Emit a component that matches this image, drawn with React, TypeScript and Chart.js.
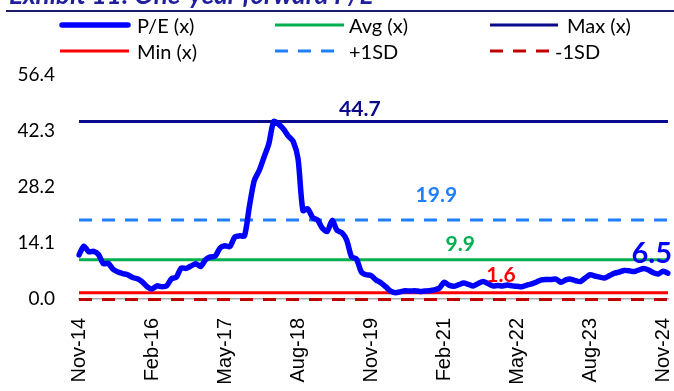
import React, { useEffect, useRef } from 'react';
import { Chart, registerables } from 'chart.js';

Chart.register(...registerables);

// ---------- data ----------
const MONTHS = ['Jan', 'Feb', 'Mar', 'Apr', 'May', 'Jun', 'Jul', 'Aug', 'Sep', 'Oct', 'Nov', 'Dec'];
const categories: string[] = [];
for (let k = 0; k < 122; k++) {
  const m = (10 + k) % 12;
  const yr = 14 + Math.floor((10 + k) / 12);
  categories.push(`${MONTHS[m]}-${String(yr).padStart(2, '0')}`);
}

const xTickLabels = ['Nov-14', 'Feb-16', 'May-17', 'Aug-18', 'Nov-19', 'Feb-21', 'May-22', 'Aug-23', 'Nov-24'];
const yTickValues = [0, 14.1, 28.2, 42.3, 56.4];

const peValues = [
  11.1, 13.3, 11.9, 12.0, 11.2, 8.9, 9.0, 7.5, 6.8, 6.4,
  6.1, 5.4, 5.1, 4.3, 3.1, 2.5, 3.3, 3.1, 3.3, 5.1,
  5.5, 7.8, 7.7, 8.3, 8.9, 8.2, 9.9, 10.6, 10.8, 12.9,
  13.4, 13.2, 15.6, 15.9, 15.9, 23.3, 29.8, 32.3, 35.7, 39.1,
  44.7, 44.0, 42.8, 41.0, 39.7, 35.3, 22.3, 22.7, 20.5, 19.9,
  17.8, 17.0, 19.8, 17.3, 16.7, 14.8, 10.6, 10.1, 6.8, 6.1,
  5.9, 4.8, 4.1, 3.1, 2.0, 1.6, 1.8, 2.1, 2.0, 2.1,
  1.9, 2.0, 2.1, 2.3, 2.7, 4.2, 3.5, 3.2, 3.6, 4.0,
  3.7, 3.3, 3.9, 4.4, 3.9, 3.3, 3.4, 3.3, 3.5, 3.3,
  3.2, 3.1, 3.5, 3.8, 4.3, 4.8, 4.9, 4.9, 5.0, 4.2,
  4.8, 5.0, 4.6, 4.4, 5.3, 6.1, 5.8, 5.5, 5.3, 5.9,
  6.5, 6.8, 7.2, 7.1, 6.9, 7.3, 7.7, 7.3, 6.6, 6.3,
  7.0, 6.5,
];

const avgValue = 9.9;
const maxValue = 44.7;
const minValue = 1.6;
const plusSdValue = 19.9;
const minusSdValue = -0.1;
const lastValue = 6.5;

const seriesNames = ['P/E (x)', 'Avg (x)', 'Max (x)', 'Min (x)', '+1SD', '-1SD'];
const titleText = 'Exhibit 11: One-year forward P/E';

// ---------- styles ----------
const C_PE = '#0000FF';
const C_AVG = '#00B050';
const C_MAX = '#0A0A8C';
const C_MIN = '#FF0000';
const C_PSD = '#1E7FFF';
const C_MSD = '#C00000';

const refLine = (label: string, v: number, color: string, dash: number[] = [], extra: any = {}) => ({
  label,
  data: [
    { x: categories[0], y: v },
    { x: categories[categories.length - 1], y: v },
  ],
  borderColor: color,
  backgroundColor: color,
  borderWidth: 3,
  borderDash: dash,
  borderCapStyle: 'butt',
  pointRadius: 0,
  tension: 0,
  ...extra,
});

const annotationPlugin = {
  id: 'valueLabels',
  afterDatasetsDraw(chart: any) {
    const { ctx, scales } = chart;
    const xs = scales.x;
    const ys = scales.y;
    const draw = (text: string, xi: number, val: number, dy: number, color: string, size: number, align: CanvasTextAlign = 'center', dx = 0) => {
      ctx.save();
      ctx.font = `bold ${size}px Lato, "Open Sans", sans-serif`;
      ctx.fillStyle = color;
      ctx.textAlign = align;
      ctx.textBaseline = 'alphabetic';
      ctx.fillText(text, xs.getPixelForValue(xi) + dx, ys.getPixelForValue(val) - dy);
      ctx.restore();
    };
    draw(maxValue.toFixed(1), 57.7, maxValue, 5, C_MAX, 21);
    draw(plusSdValue.toFixed(1), 73.4, plusSdValue, 18, C_PSD, 21);
    draw(avgValue.toFixed(1), 78.3, avgValue, 9, C_AVG, 21);
    draw(minValue.toFixed(1), 86.7, minValue, 11, C_MIN, 21);
    draw(lastValue.toFixed(1), categories.length - 1, lastValue, 10, C_PE, 29, 'right', 4);
  },
};

function ChartCanvas() {
  const ref = useRef<HTMLCanvasElement>(null);
  useEffect(() => {
    if (!ref.current) return;
    const chart = new Chart(ref.current, {
      type: 'line',
      data: {
        labels: categories,
        datasets: [
          {
            label: seriesNames[0],
            data: peValues,
            borderColor: C_PE,
            backgroundColor: C_PE,
            borderWidth: 5.5,
            pointRadius: 0,
            tension: 0.25,
            borderCapStyle: 'round',
            borderJoinStyle: 'round',
          } as any,
          refLine(seriesNames[1], avgValue, C_AVG),
          refLine(seriesNames[2], maxValue, C_MAX),
          refLine(seriesNames[3], minValue, C_MIN),
          refLine(seriesNames[4], plusSdValue, C_PSD, [13, 10]),
          refLine(seriesNames[5], minusSdValue, C_MSD, [13, 10], { clip: false }),
        ],
      },
      options: {
        responsive: false,
        animation: false,
        devicePixelRatio: 1,
        layout: { padding: { top: 75, right: 6, left: 0, bottom: 0 } },
        plugins: {
          legend: { display: false },
          tooltip: { enabled: false },
          title: { display: false },
        },
        scales: {
          x: {
            type: 'category',
            offset: false,
            grid: { display: false, drawTicks: true, tickLength: 19 },
            border: { display: true, color: '#A6A6A6', width: 1.5 },
            ticks: {
              autoSkip: false,
              maxRotation: 90,
              minRotation: 90,
              padding: 0,
              color: '#000000',
              font: { family: '"Liberation Sans", Arial, sans-serif', size: 20 },
              callback: (_v: any, idx: number) => {
                const l = categories[idx];
                return xTickLabels.includes(l) ? l : null;
              },
            },
            afterFit: (s: any) => {
              s.height = 92;
              s.paddingRight = 0;
              s.paddingLeft = 0;
            },
          },
          y: {
            min: 0,
            max: 56.4,
            grid: { display: false, drawTicks: false },
            border: { display: false },
            afterBuildTicks: (s: any) => {
              s.ticks = yTickValues.map((v) => ({ value: v }));
            },
            ticks: {
              padding: 24,
              color: '#000000',
              font: { family: 'Lato, "Open Sans", sans-serif', size: 19 },
              callback: (v: any) => Number(v).toFixed(1),
            },
            afterFit: (s: any) => {
              s.width = 79;
            },
          },
        },
      } as any,
      plugins: [annotationPlugin],
    });
    return () => chart.destroy();
  }, []);
  return <canvas ref={ref} width={674} height={391} style={{ position: 'absolute', left: 0, top: 0 }} />;
}

function Legend() {
  const font: React.CSSProperties = {
    position: 'absolute',
    fontFamily: 'Lato, "Open Sans", sans-serif',
    fontSize: 20,
    lineHeight: '24px',
    color: '#000',
    whiteSpace: 'nowrap',
  };
  const r1 = 25;
  const r2 = 51;
  return (
    <>
      <svg width={674} height={70} style={{ position: 'absolute', left: 0, top: 0 }}>
        <line x1={62} y1={r1} x2={128} y2={r1} stroke={C_PE} strokeWidth={5.5} strokeLinecap="round" />
        <line x1={275} y1={r1} x2={344} y2={r1} stroke={C_AVG} strokeWidth={3} />
        <line x1={490} y1={r1} x2={558} y2={r1} stroke={C_MAX} strokeWidth={3} />
        <line x1={60} y1={r2} x2={129} y2={r2} stroke={C_MIN} strokeWidth={3} />
        <line x1={275} y1={r2} x2={335} y2={r2} stroke={C_PSD} strokeWidth={3} strokeDasharray="13 10" />
        <line x1={490} y1={r2} x2={550} y2={r2} stroke={C_MSD} strokeWidth={3} strokeDasharray="13 10" />
      </svg>
      <div style={{ ...font, left: 137, top: r1 - 12 }}>{seriesNames[0]}</div>
      <div style={{ ...font, left: 349, top: r1 - 12 }}>{seriesNames[1]}</div>
      <div style={{ ...font, left: 567, top: r1 - 12 }}>{seriesNames[2]}</div>
      <div style={{ ...font, left: 137, top: r2 - 12 }}>{seriesNames[3]}</div>
      <div style={{ ...font, left: 349, top: r2 - 12 }}>{seriesNames[4]}</div>
      <div style={{ ...font, left: 555, top: r2 - 12 }}>{seriesNames[5]}</div>
    </>
  );
}

export default function App() {
  return (
    <div
      style={{
        position: 'absolute',
        left: 0,
        top: 0,
        width: 674,
        height: 391,
        overflow: 'hidden',
        background: '#ffffff',
      }}
    >
      <ChartCanvas />
      <div
        style={{
          position: 'absolute',
          left: 9,
          top: -19,
          fontFamily: 'Lato, "Open Sans", sans-serif',
          fontWeight: 'bold',
          fontStyle: 'italic',
          fontSize: 26,
          lineHeight: '26px',
          color: '#1F1F9E',
          whiteSpace: 'nowrap',
        }}
      >
        {titleText}
      </div>
      <div style={{ position: 'absolute', left: 6, top: 10, width: 668, height: 2, background: '#1B1B6E' }} />
      <Legend />
    </div>
  );
}
